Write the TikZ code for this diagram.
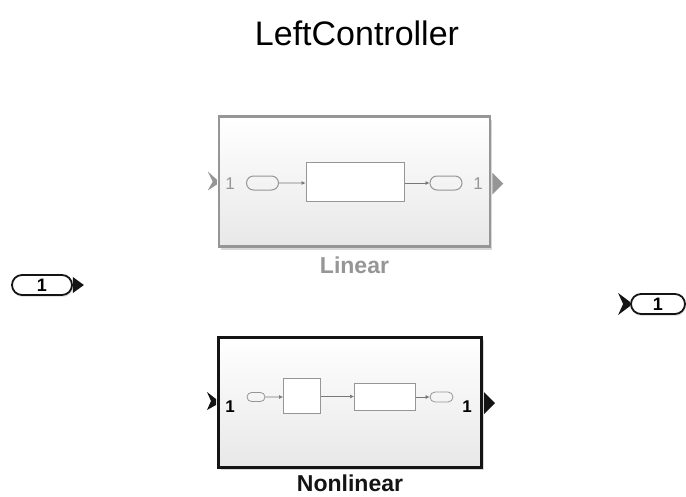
\documentclass[tikz,border=0pt]{standalone}
\usepackage{fontspec}
\setmainfont{Liberation Sans}
\usetikzlibrary{arrows.meta,positioning,calc,shapes.misc,shadows}
\definecolor{ink}{RGB}{20,20,20}
\definecolor{dim}{RGB}{150,150,150}
\definecolor{wire}{RGB}{120,120,120}
\tikzset{
  blk/.style={rectangle,top color=white,bottom color=black!9,
    drop shadow={opacity=.3,shadow xshift=2pt,shadow yshift=-3pt}},
  pill/.style={rounded rectangle,draw,inner sep=0pt},
  box/.style={rectangle,draw,fill=white,inner sep=0pt},
  ar/.style={-{Latex[length=4pt,width=4pt]},draw=wire,line width=.6pt},
  num/.style={font=\fontsize{17}{20}\selectfont,inner sep=0pt},
  lbl/.style={font=\fontsize{23}{26}\selectfont\bfseries,inner sep=0pt},
}
\begin{document}
\begin{tikzpicture}[x=1pt,y=-1pt]
  \useasboundingbox[fill=white] (0,0) rectangle (686,496);
  \node[font=\fontsize{34}{40}\selectfont] (title) at (357,33) {LeftController};

  % top subsystem
  \node[blk,draw=dim,line width=2.5pt,minimum width=271pt,minimum height=130pt]
     (lin) at (354.5,181.5) {};
  \node[pill,draw=dim,line width=1pt,minimum width=32pt,minimum height=14pt]
     (lin-in) at (262.5,183) {};
  \node[box,draw=dim,line width=1pt,minimum width=98pt,minimum height=39pt]
     (lin-f) at (355,182) {};
  \node[pill,draw=dim,line width=1pt,minimum width=32pt,minimum height=14pt]
     (lin-out) at (446,183) {};
  \draw[ar] (lin-in) -- (lin-in -| lin-f.west);
  \draw[ar] (lin-out -| lin-f.east) -- (lin-out);
  \node[num,text=dim] (lin-n1) at (230,184) {1};
  \node[num,text=dim] (lin-n2) at (478,184) {1};
  \fill[dim] ($(lin.west)+(-10,-10)$) -- ($(lin.west)+(-1,-2)$) -- ($(lin.west)+(-1,3)$)
     -- ($(lin.west)+(-10,9)$) -- ($(lin.west)+(-5,0)$) -- cycle;
  \fill[dim] ($(lin.east)+(1,-9)$) -- ($(lin.east)+(12,2)$) -- ($(lin.east)+(1,13)$) -- cycle;
  \node[lbl,text=dim,below=9pt of lin] (lin-cap) {Linear};

  % bottom subsystem
  \node[blk,draw=ink,line width=3pt,minimum width=263pt,minimum height=130pt]
     (non) at (350,402) {};
  \node[pill,draw=dim,line width=.8pt,minimum width=18pt,minimum height=9pt]
     (non-in) at (256,397) {};
  \node[box,draw=dim,line width=1pt,minimum width=37pt,minimum height=35pt]
     (non-f1) at (302,395.5) {};
  \node[box,draw=dim,line width=1pt,minimum width=61pt,minimum height=27pt]
     (non-f2) at (385,396.5) {};
  \node[pill,draw=dim,line width=.8pt,minimum width=23pt,minimum height=10pt]
     (non-out) at (441.5,397) {};
  \draw[ar] (non-in) -- (non-in -| non-f1.west);
  \draw[ar] (non-f1.east |- non-f2) -- (non-f2.west);
  \draw[ar] (non-out -| non-f2.east) -- (non-out);
  \node[num,font=\fontsize{17}{20}\selectfont\bfseries] (non-n1) at (230,407) {1};
  \node[num,font=\fontsize{17}{20}\selectfont\bfseries] (non-n2) at (467,407) {1};
  \fill[ink] ($(non.west)+(-10,-10)$) -- ($(non.west)+(-1,-3)$) -- ($(non.west)+(-1,3)$)
     -- ($(non.west)+(-10,8)$) -- ($(non.west)+(-6,-1)$) -- cycle;
  \fill[ink] ($(non.east)+(1,-10)$) -- ($(non.east)+(12,1)$) -- ($(non.east)+(1,12)$) -- cycle;
  \node[lbl,text=ink,below=6pt of non] (non-cap) {Nonlinear};

  % root ports
  \node[pill,draw=ink,line width=1.8pt,minimum width=60pt,minimum height=20pt,
     font=\fontsize{18}{20}\selectfont\bfseries,
     drop shadow={opacity=.2,shadow xshift=1pt,shadow yshift=-2pt},fill=white]
     (in1) at (42,285) {1};
  \fill[ink] ($(in1.east)+(0,-8)$) -- ($(in1.east)+(11,0)$) -- ($(in1.east)+(0,8)$) -- cycle;
  \node[pill,draw=ink,line width=1.8pt,minimum width=54pt,minimum height=20pt,
     font=\fontsize{18}{20}\selectfont\bfseries,
     drop shadow={opacity=.2,shadow xshift=1pt,shadow yshift=-2pt},fill=white]
     (out1) at (658,304) {1};
  \fill[ink] ($(out1.west)+(-12,-11)$) -- ($(out1.west)+(0,-2)$) -- ($(out1.west)+(0,2)$)
     -- ($(out1.west)+(-12,11)$) -- ($(out1.west)+(-7,0)$) -- cycle;
\end{tikzpicture}
\end{document}
